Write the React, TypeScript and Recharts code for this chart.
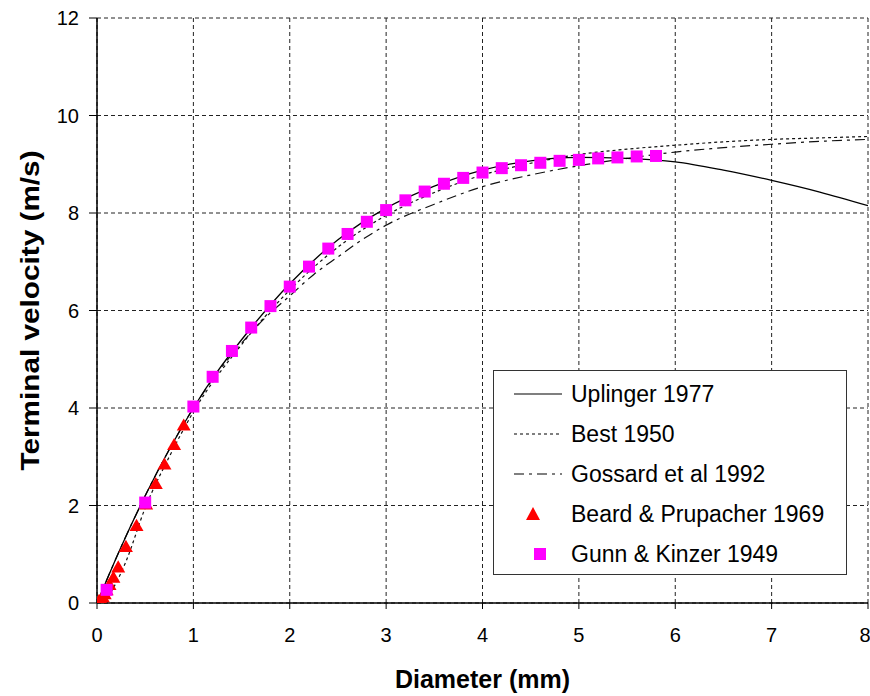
import {
  ComposedChart,
  Line,
  Scatter,
  XAxis,
  YAxis,
  ZAxis,
  CartesianGrid,
  Legend,
} from 'recharts'

// Uplinger 1977 (solid line)
const uplingerD = [0, 0.25, 0.5, 0.75, 1, 1.25, 1.5, 2, 2.5, 3, 3.5, 4, 4.5, 5, 5.5, 6, 6.5, 7, 7.5, 8]
const uplingerV = [0, 1.15, 2.2, 3.15, 4.0, 4.75, 5.4, 6.55, 7.45, 8.1, 8.55, 8.88, 9.07, 9.14, 9.12, 9.05, 8.88, 8.67, 8.43, 8.15]

// Best 1950 (dotted line)
const bestD = [0, 0.1, 0.2, 0.3, 0.5, 0.75, 1, 1.5, 2, 2.5, 3, 3.5, 4, 4.5, 5, 5.5, 6, 6.5, 7, 7.5, 8]
const bestV = [0, 0.1, 0.42, 0.85, 1.95, 3.0, 3.92, 5.3, 6.42, 7.3, 7.95, 8.42, 8.78, 9.02, 9.2, 9.31, 9.39, 9.46, 9.51, 9.54, 9.57]

// Gossard et al 1992 (dash-dot line)
const gossardD = [0, 0.25, 0.5, 0.75, 1, 1.25, 1.5, 1.75, 2, 2.25, 2.5, 2.75, 3, 3.5, 4, 4.5, 5, 5.5, 6, 6.5, 7, 7.5, 8]
const gossardV = [0, 1.15, 2.2, 3.15, 4.0, 4.72, 5.33, 5.86, 6.3, 6.74, 7.1, 7.45, 7.75, 8.18, 8.54, 8.78, 8.97, 9.12, 9.25, 9.34, 9.41, 9.47, 9.51]

// Beard & Prupacher 1969 (triangles)
const beardD = [0.02, 0.04, 0.06, 0.08, 0.1, 0.13, 0.17, 0.22, 0.3, 0.41, 0.51, 0.61, 0.7, 0.8, 0.9]
const beardV = [0.02, 0.05, 0.1, 0.16, 0.24, 0.35, 0.5, 0.71, 1.13, 1.56, 2.0, 2.42, 2.82, 3.22, 3.62]

// Gunn & Kinzer 1949 (squares)
const gunnD = [0.1, 0.5, 1.0, 1.2, 1.4, 1.6, 1.8, 2.0, 2.2, 2.4, 2.6, 2.8, 3.0, 3.2, 3.4, 3.6, 3.8, 4.0, 4.2, 4.4, 4.6, 4.8, 5.0, 5.2, 5.4, 5.6, 5.8]
const gunnV = [0.27, 2.06, 4.03, 4.64, 5.17, 5.65, 6.09, 6.49, 6.9, 7.27, 7.57, 7.82, 8.06, 8.26, 8.44, 8.6, 8.72, 8.83, 8.92, 8.98, 9.03, 9.07, 9.09, 9.12, 9.14, 9.16, 9.17]

const xTicks = [0, 1, 2, 3, 4, 5, 6, 7, 8]
const yTicks = [0, 2, 4, 6, 8, 10, 12]

const toRows = (d: number[], v: number[]) => d.map((x, i) => ({ d: x, v: v[i] }))

const FONT = '"Liberation Sans", Arial, sans-serif'

const legendItems = [
  { name: 'Uplinger 1977', kind: 'line', dash: undefined },
  { name: 'Best 1950', kind: 'line', dash: '3 3' },
  { name: 'Gossard et al 1992', kind: 'line', dash: '10 5 3 5' },
  { name: 'Beard & Prupacher 1969', kind: 'triangle' },
  { name: 'Gunn & Kinzer 1949', kind: 'square' },
]

const BoxLegend = () => (
  <div
    style={{
      width: 354,
      height: 205,
      boxSizing: 'border-box',
      border: '1.5px solid #333',
      background: '#fff',
      paddingTop: 3,
      fontFamily: FONT,
      fontSize: 23,
      color: '#000',
    }}
  >
    {legendItems.map(item => (
      <div key={item.name} style={{ height: 40, display: 'flex', alignItems: 'center', paddingLeft: 20 }}>
        <svg width={50} height={20}>
          {item.kind === 'line' && (
            <line x1={0} y1={10} x2={48} y2={10} stroke="#000" strokeWidth={1.2} strokeDasharray={item.dash} />
          )}
          {item.kind === 'triangle' && <polygon points="19,3 26,16 12,16" fill="#ff0000" />}
          {item.kind === 'square' && <rect x={20} y={4} width={12} height={12} fill="#ff00ff" />}
        </svg>
        <span style={{ marginLeft: 7, whiteSpace: 'nowrap' }}>{item.name}</span>
      </div>
    ))}
  </div>
)

export default function App() {
  return (
    <div style={{ position: 'absolute', left: 0, top: 0, background: '#fff' }}>
      <ComposedChart width={870} height={696} margin={{ top: 18, right: 2, bottom: 0, left: 0 }}>
        <CartesianGrid stroke="#222" strokeDasharray="4 3" strokeWidth={1} />
        <XAxis
          dataKey="d"
          type="number"
          domain={[0, 8]}
          ticks={xTicks}
          allowDataOverflow
          height={93}
          tickSize={6}
          tickMargin={19}
          axisLine={{ stroke: '#000', strokeWidth: 1.5 }}
          tickLine={{ stroke: '#000' }}
          tick={{ fill: '#000', fontSize: 20, fontFamily: FONT }}
          label={{
            content: ({ viewBox }: any) => (
              <text
                x={viewBox.x + viewBox.width / 2}
                y={viewBox.y + 85}
                textAnchor="middle"
                fontFamily={FONT}
                fontWeight="bold"
                fontSize={25}
                fill="#000"
              >
                Diameter (mm)
              </text>
            ),
          }}
        />
        <XAxis xAxisId="top" orientation="top" type="number" domain={[0, 8]} height={0} tick={false} tickLine={false} axisLine={{ stroke: '#000', strokeWidth: 1.5 }} />
        <YAxis
          dataKey="v"
          type="number"
          domain={[0, 12]}
          ticks={yTicks}
          allowDataOverflow
          width={97}
          tickSize={8}
          tickMargin={10}
          axisLine={{ stroke: '#000', strokeWidth: 1.5 }}
          tickLine={{ stroke: '#000' }}
          tick={{ fill: '#000', fontSize: 20, fontFamily: FONT }}
          label={{
            content: ({ viewBox }: any) => {
              const cx = viewBox.x + 39
              const cy = viewBox.y + viewBox.height / 2
              return (
                <text
                  x={0}
                  y={0}
                  transform={`translate(${cx} ${cy}) rotate(-90) scale(1.19 1)`}
                  textAnchor="middle"
                  fontFamily={FONT}
                  fontWeight="bold"
                  fontSize={25}
                  fill="#000"
                >
                  Terminal velocity (m/s)
                </text>
              )
            },
          }}
        />
        <YAxis yAxisId="right" orientation="right" type="number" domain={[0, 12]} width={0} tick={false} tickLine={false} axisLine={{ stroke: '#000', strokeWidth: 1.5 }} />
        <ZAxis zAxisId="tri" type="number" range={[85, 85]} />
        <ZAxis zAxisId="sq" type="number" range={[144, 144]} />
        <Legend
          layout="vertical"
          align="center"
          verticalAlign="middle"
          content={<BoxLegend />}
          wrapperStyle={{ left: 493, top: 370, width: 354, height: 205 }}
        />
        <Line
          data={toRows(gossardD, gossardV)}
          dataKey="v"
          name="Gossard et al 1992"
          type="monotone"
          stroke="#111"
          strokeWidth={1.2}
          strokeDasharray="10 5 3 5"
          dot={false}
          activeDot={false}
          isAnimationActive={false}
        />
        <Line
          data={toRows(bestD, bestV)}
          dataKey="v"
          name="Best 1950"
          type="monotone"
          stroke="#111"
          strokeWidth={1.2}
          strokeDasharray="3 3"
          dot={false}
          activeDot={false}
          isAnimationActive={false}
        />
        <Line
          data={toRows(uplingerD, uplingerV)}
          dataKey="v"
          name="Uplinger 1977"
          type="monotone"
          stroke="#000"
          strokeWidth={1.3}
          dot={false}
          activeDot={false}
          isAnimationActive={false}
        />
        <Scatter
          data={toRows(beardD, beardV)}
          dataKey="v"
          zAxisId="tri"
          name="Beard & Prupacher 1969"
          shape="triangle"
          fill="#ff0000"
          legendType="triangle"
          isAnimationActive={false}
        />
        <Scatter
          data={toRows(gunnD, gunnV)}
          dataKey="v"
          zAxisId="sq"
          name="Gunn & Kinzer 1949"
          shape="square"
          fill="#ff00ff"
          legendType="square"
          isAnimationActive={false}
        />
      </ComposedChart>
    </div>
  )
}
